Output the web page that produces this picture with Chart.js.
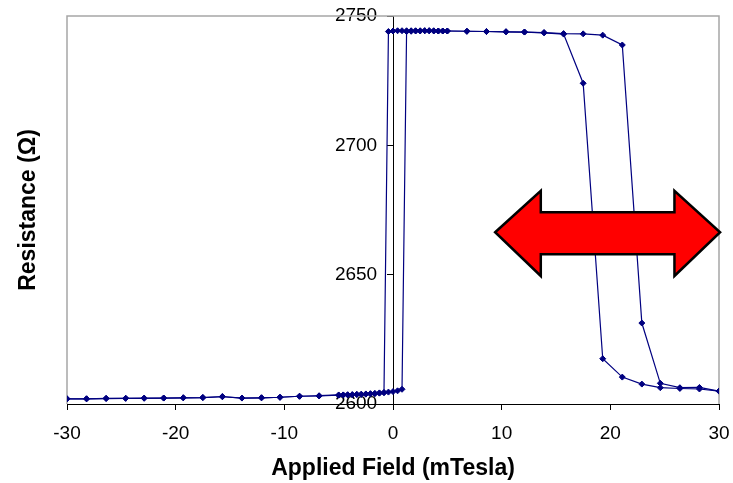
<!DOCTYPE html>
<html>
<head>
<meta charset="utf-8">
<script src="https://cdn.jsdelivr.net/npm/chart.js@4/dist/chart.umd.min.js"></script>
<style>
  html, body { margin: 0; padding: 0; background: #fff; }
  #wrap { width: 733px; height: 483px; }
</style>
</head>
<body>
<div id="wrap"><canvas id="chart" width="733" height="483"></canvas></div>
<script>
// field values (mT) and resistance (ohm), one pair per sweep
var fieldUp = [-30, -28.2, -26.4, -24.6, -22.9, -21.1, -19.3, -17.5, -15.7, -13.9, -12.1, -10.4, -8.6, -6.8,
  -5, -4.58, -4.17, -3.75, -3.33, -2.92, -2.5, -2.08, -1.67, -1.25, -0.83, -0.42, 0, 0.42, 0.83,
  1.25, 1.67, 2.08, 2.5, 2.92, 3.33, 3.75, 4.17, 4.58, 5,
  6.8, 8.6, 10.4, 12.1, 13.9, 15.7, 17.5, 19.3, 21.1, 22.9, 24.6, 26.4, 28.2, 30];
var resUp = [2602.0, 2602.0, 2602.1, 2602.2, 2602.2, 2602.3, 2602.4, 2602.5, 2602.8, 2602.3, 2602.4, 2602.6, 2603.0, 2603.1,
  2603.4, 2603.5, 2603.5, 2603.6, 2603.7, 2603.8, 2603.9, 2604.0, 2604.1, 2604.3, 2604.4, 2604.6, 2604.8, 2605.1, 2605.7,
  2744.0, 2744.1, 2744.2, 2744.2, 2744.3, 2744.3, 2744.3, 2744.2, 2744.2, 2744.2,
  2744.1, 2744.0, 2743.9, 2743.8, 2743.6, 2743.2, 2743.1, 2742.6, 2738.8, 2631.3, 2608.0, 2606.3, 2606.4, 2605.0];

var fieldDown = [-30, -28.2, -26.4, -24.6, -22.9, -21.1, -19.3, -17.5, -15.7, -13.9, -12.1, -10.4, -8.6, -6.8,
  -5, -4.58, -4.17, -3.75, -3.33, -2.92, -2.5, -2.08, -1.67, -1.25, -0.83,
  -0.42, 0, 0.42, 0.83, 1.25, 1.67, 2.08, 2.5, 2.92, 3.33, 3.75, 4.17, 4.58, 5,
  6.8, 8.6, 10.4, 12.1, 13.9, 15.7, 17.5, 19.3, 21.1, 22.9, 24.6, 26.4, 28.2, 30];
var resDown = [2602.0, 2602.0, 2602.2, 2602.2, 2602.3, 2602.3, 2602.4, 2602.5, 2602.9, 2602.3, 2602.4, 2602.6, 2603.0, 2603.2,
  2603.5, 2603.5, 2603.6, 2603.6, 2603.7, 2603.7, 2603.8, 2603.9, 2604.0, 2604.2, 2604.4,
  2744.0, 2744.2, 2744.3, 2744.3, 2744.3, 2744.3, 2744.3, 2744.3, 2744.3, 2744.3, 2744.2, 2744.2, 2744.2, 2744.2,
  2744.1, 2744.0, 2743.9, 2743.8, 2743.5, 2743.0, 2724.0, 2617.5, 2610.4, 2607.7, 2606.3, 2606.0, 2605.8, 2605.0];

var xTicks = [-30, -20, -10, 0, 10, 20, 30];
var yTicks = [2600, 2650, 2700, 2750];

function toPoints(xs, ys) {
  var pts = [];
  for (var i = 0; i < xs.length; i++) pts.push({ x: xs[i], y: ys[i] });
  return pts;
}

var FONT = "Arial, 'Liberation Sans', sans-serif";
var NAVY = '#000080';

// grey frame round the plot area (bottom edge is the black x axis)
var framePlugin = {
  id: 'frame',
  beforeDatasetsDraw: function (chart) {
    var a = chart.chartArea, ctx = chart.ctx;
    ctx.save();
    ctx.strokeStyle = '#a6a6a6';
    ctx.lineWidth = 1.5;
    ctx.beginPath();
    ctx.moveTo(a.left, a.bottom);
    ctx.lineTo(a.left, a.top);
    ctx.lineTo(a.right, a.top);
    ctx.lineTo(a.right, a.bottom);
    ctx.stroke();
    ctx.restore();
  }
};

// red double-headed arrow, placed in data units
var arrowPlugin = {
  id: 'arrow',
  afterDatasetsDraw: function (chart) {
    var xs = chart.scales.x, ys = chart.scales.y, ctx = chart.ctx;
    var xL = xs.getPixelForValue(9.4), xR = xs.getPixelForValue(30.1);
    var xHL = xs.getPixelForValue(13.6), xHR = xs.getPixelForValue(25.9);
    var yC = ys.getPixelForValue(2666.4);
    var yHT = ys.getPixelForValue(2682.4), yHB = ys.getPixelForValue(2649.5);
    var yST = ys.getPixelForValue(2674.1), ySB = ys.getPixelForValue(2657.9);
    ctx.save();
    ctx.beginPath();
    ctx.moveTo(xL, yC);
    ctx.lineTo(xHL, yHT);
    ctx.lineTo(xHL, yST);
    ctx.lineTo(xHR, yST);
    ctx.lineTo(xHR, yHT);
    ctx.lineTo(xR, yC);
    ctx.lineTo(xHR, yHB);
    ctx.lineTo(xHR, ySB);
    ctx.lineTo(xHL, ySB);
    ctx.lineTo(xHL, yHB);
    ctx.closePath();
    ctx.fillStyle = '#ff0000';
    ctx.fill();
    ctx.lineWidth = 2.5;
    ctx.lineJoin = 'miter';
    ctx.strokeStyle = '#000';
    ctx.stroke();
    ctx.restore();
  }
};

var ds = {
  showLine: true,
  borderColor: NAVY,
  backgroundColor: NAVY,
  borderWidth: 1.2,
  pointStyle: 'rectRot',
  pointRadius: 3,
  pointBorderWidth: 1,
  pointBorderColor: NAVY,
  pointBackgroundColor: NAVY,
  tension: 0
};

new Chart(document.getElementById('chart'), {
  type: 'scatter',
  data: {
    datasets: [
      Object.assign({ label: 'Up', data: toPoints(fieldUp, resUp) }, ds),
      Object.assign({ label: 'Down', data: toPoints(fieldDown, resDown) }, ds)
    ]
  },
  options: {
    responsive: false,
    animation: false,
    layout: { padding: { top: 16, right: 14, bottom: 0, left: 0 } },
    plugins: { legend: { display: false }, tooltip: { enabled: false } },
    scales: {
      x: {
        type: 'linear',
        position: 'bottom',
        min: -30, max: 30,
        afterBuildTicks: function (s) { s.ticks = xTicks.map(function (v) { return { value: v }; }); },
        // fixed box so the plot area matches the original
        afterFit: function (s) { s.height = 79; s.paddingLeft = 0; s.paddingRight = 0; },
        grid: { drawOnChartArea: false, color: '#000', tickLength: 6, tickWidth: 1 },
        border: { color: '#000', width: 1 },
        ticks: { color: '#000', font: { family: FONT, size: 19 }, padding: 12, maxRotation: 0 },
        title: {
          display: true, text: 'Applied Field (mTesla)', color: '#000',
          font: { family: FONT, size: 23, weight: 'bold' }, padding: { top: 0, bottom: 1 }
        }
      },
      y: {
        type: 'linear',
        position: { x: 0 },
        min: 2600, max: 2750,
        afterBuildTicks: function (s) { s.ticks = yTicks.map(function (v) { return { value: v }; }); },
        afterFit: function (s) { s.width = 0; s.paddingTop = 0; s.paddingBottom = 0; },
        grid: { drawOnChartArea: false, color: '#000', tickLength: 6, tickWidth: 1 },
        border: { color: '#000', width: 1 },
        ticks: {
          color: '#000', font: { family: FONT, size: 19 },
          // labels of an axis placed at x=0 sit on the line; trailing spaces push them clear
          callback: function (v) { return String(v) + '   '; }
        }
      },
      yTitle: {
        type: 'linear',
        axis: 'y',
        position: 'left',
        min: 2600, max: 2750,
        afterFit: function (s) { s.width = 67; s.paddingTop = 0; s.paddingBottom = 0; },
        grid: { display: false },
        border: { display: false },
        ticks: { display: false },
        title: {
          display: true, text: 'Resistance (Ω)', color: '#000',
          font: { family: FONT, size: 23, weight: 'bold' }, padding: { top: 15, bottom: 0 }
        }
      }
    }
  },
  plugins: [framePlugin, arrowPlugin]
});
</script>
</body>
</html>
